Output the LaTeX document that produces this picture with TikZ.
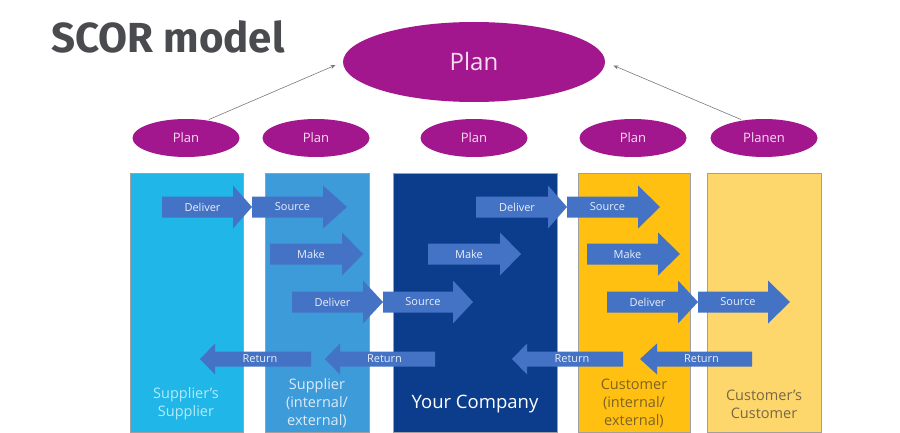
\documentclass[tikz,border=0pt]{standalone}
\usepackage{fontspec}
\setmainfont{Open Sans}
\newfontfamily\titlefont{Fira Sans}
\usetikzlibrary{shapes.geometric, arrows.meta}
\definecolor{titulo}{HTML}{4A4B4E}
\definecolor{planc}{HTML}{A2178E}
\definecolor{plantexto}{HTML}{F7DDF2}
\definecolor{flujo}{HTML}{4472C4}
\definecolor{flujotexto}{HTML}{E9F0FA}
\definecolor{enlace}{HTML}{7A7A7A}
\definecolor{borde}{HTML}{A0A0A0}
\definecolor{colA}{HTML}{20B6E8}
\definecolor{colB}{HTML}{3D9BDA}
\definecolor{colC}{HTML}{0B3D8C}
\definecolor{colD}{HTML}{FFC012}
\definecolor{colE}{HTML}{FDD66C}
\definecolor{textoA}{HTML}{B2EAFA}
\definecolor{textoB}{HTML}{DCEBF8}
\definecolor{textoD}{HTML}{7E6322}
\definecolor{textoE}{HTML}{786744}

\begin{document}
\begin{tikzpicture}[x=1pt, y=-1pt,
    plan/.style={ellipse, fill=planc, text=plantexto, inner sep=0pt},
    colbox/.style={draw=borde, line width=0.5pt},
    flow/.style={fill=flujo},
    flowtext/.style={text=flujotexto, font=\fontsize{11}{13}\selectfont},
    collabel/.style={align=center, font=\fontsize{14.5}{18}\selectfont},
    link/.style={draw=enlace, line width=0.6pt, -{Stealth[length=5pt, width=4pt]}}]
  \useasboundingbox[fill=white] (0,0) rectangle (900,433);

  % columns
  \foreach \a/\b/\c in {130/243/colA, 265/369/colB, 393/557/colC,
                        578/690/colD, 707/821/colE} {
    \filldraw[colbox, fill=\c] (\a,173) rectangle (\b,432);
  }

  % forward arrows
  \foreach \n/\a/\b/\c/\y/\t in {a1/162/233/252/207/Deliver, a2/252/323/347/207/Source,
                                 a3/476/548/567/207/Deliver, a4/567/638/660/207/Source,
                                 a5/270/342/363/254/Make, a6/428/500/521/254/Make,
                                 a7/587/658/680/254/Make,
                                 a8/292/363/383/302/Deliver, a9/383/453/473/302/Source,
                                 a10/607/678/698/302/Deliver, a11/698/768/790/302/Source} {
    \fill[flow] (\a,\y-10.5) -- (\b,\y-10.5) -- (\b,\y-21.5) -- (\c,\y)
      -- (\b,\y+21.5) -- (\b,\y+10.5) -- (\a,\y+10.5) -- cycle;
    \node[flowtext] (\n) at ({(\a+\b)/2+5},\y) {\t};
  }

  % return arrows
  \foreach \n/\a/\b/\c/\y in {r1/200/215/311/359, r2/325/340/435/359,
                              r3/512/527/623/359, r4/640/657/752/359} {
    \fill[flow] (\c,\y-7.5) -- (\b,\y-7.5) -- (\b,\y-15.5) -- (\a,\y)
      -- (\b,\y+15.5) -- (\b,\y+7.5) -- (\c,\y+7.5) -- cycle;
    \node[flowtext] (\n) at ({(\b+\c)/2-3},\y) {Return};
  }

  % column labels
  \node[collabel, text=textoA] (l1) at (186,404) {Supplier's\\Supplier};
  \node[collabel, text=textoB] (l2) at (317,403) {Supplier\\(internal/\\external)};
  \node[collabel, text=white, font=\fontsize{18.5}{22}\selectfont] (l3) at (475,404) {Your Company};
  \node[collabel, text=textoD] (l4) at (634,403) {Customer\\(internal/\\external)};
  \node[collabel, text=textoE] (l5) at (764,404) {Customer's\\Customer};

  % plan ellipses
  \node[anchor=base west, text=titulo, font=\titlefont\fontsize{42}{46}\selectfont\bfseries] (title) at (48,53) {SCOR model};
  \node[plan, minimum width=262pt, minimum height=80pt, font=\fontsize{24}{28}\selectfont] (top) at (474,62) {Plan};
  \foreach \n/\x/\t in {p1/186/Plan, p2/316/Plan, p3/474/Plan, p4/633/Plan, p5/764/Planen} {
    \node[plan, minimum width=107pt, minimum height=38pt, font=\fontsize{13}{15}\selectfont] (\n) at (\x,138) {\t};
  }

  \draw[link, shorten <=2pt, shorten >=8pt] (p1.40) -- (top.west);
  \draw[link, shorten <=2pt, shorten >=9pt] (p5.140) -- (top.east);
\end{tikzpicture}
\end{document}
